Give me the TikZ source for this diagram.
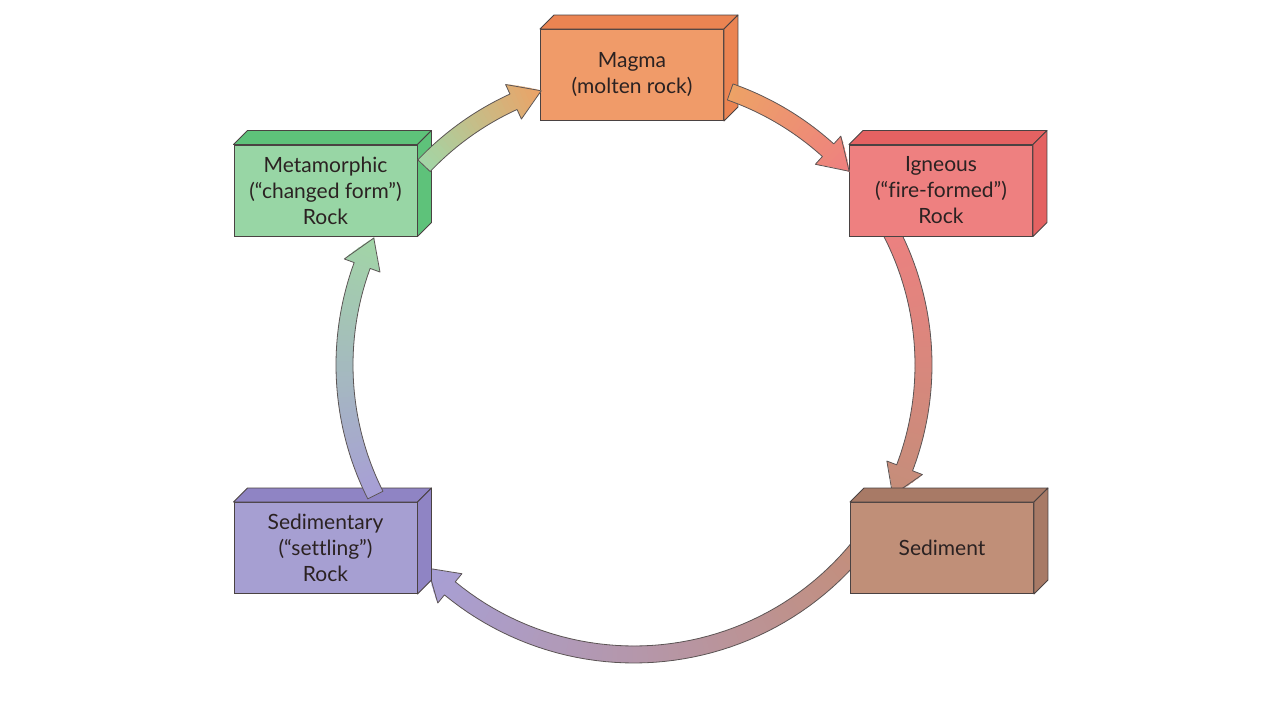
\documentclass[tikz,border=0pt]{standalone}
\usepackage{fontspec}
\setmainfont{Lato}[Ligatures=NoCommon]
\usetikzlibrary{calc}
\definecolor{boxline}{HTML}{4A4242}
\definecolor{txt}{HTML}{2B2222}
\definecolor{magF}{HTML}{F09B69}
\definecolor{magS}{HTML}{EB8452}
\definecolor{ignF}{HTML}{EE8080}
\definecolor{ignS}{HTML}{E46262}
\definecolor{metF}{HTML}{98D6A5}
\definecolor{metS}{HTML}{5EC27A}
\definecolor{sedrF}{HTML}{A69FD2}
\definecolor{sedrS}{HTML}{8F84C4}
\definecolor{sedF}{HTML}{C08F78}
\definecolor{sedS}{HTML}{A87A66}
\definecolor{arrMet}{HTML}{A2D6A6}
\definecolor{arrMag}{HTML}{EDA266}
\definecolor{arrIgn}{HTML}{EE8080}
\definecolor{arrSed}{HTML}{C48E7A}
\definecolor{arrSedr}{HTML}{A79FD6}
\tikzset{
  rockbox/.style={draw=boxline, line width=0.9pt, minimum width=183pt, minimum height=91pt,
    inner sep=0pt, align=center, font=\fontsize{21}{26}\selectfont, text=txt},
  arrline/.style={draw=boxline!90, line width=0.8pt, line join=round},
  faceline/.style={draw=boxline, line width=0.9pt, line join=round}
}
\newcommand{\boxfaces}[3]{%
  \path[fill=#2, faceline] (#1.north west) -- ++(14,14) -- ($(#1.north east)+(14,14)$) -- (#1.north east) -- cycle;
  \path[fill=#3, faceline] (#1.north east) -- ++(14,14) -- ($(#1.south east)+(14,14)$) -- (#1.south east) -- cycle;
}
% arrow along the cycle circle: start angle, end angle, start colour, end colour
\newcommand{\rockarrow}[4]{%
  \pgfmathsetmacro{\arrsgn}{(#2>#1)?1:-1}%
  \pgfmathsetmacro{\angH}{#2-\arrsgn*5.9}%
  \pgfmathtruncatemacro{\nsh}{abs(\angH-#1)}%
  \pgfmathsetmacro{\ntot}{\nsh+6}%
  \foreach \i in {1,...,\nsh}{%
    \pgfmathsetmacro{\angA}{#1+(\angH-#1)*(\i-1)/\nsh}%
    \pgfmathsetmacro{\angB}{#1+(\angH-#1)*\i/\nsh+\arrsgn*0.3}%
    \pgfmathtruncatemacro{\pc}{100*(\i-0.5)/\ntot}%
    \fill[#4!\pc!#3] (\angA:281) -- (\angA:298) -- (\angB:298) -- (\angB:281) -- cycle;
  }%
  \foreach \j in {1,...,6}{%
    \pgfmathsetmacro{\angA}{\angH+(#2-\angH)*(\j-1)/6}%
    \pgfmathsetmacro{\angB}{\angH+(#2-\angH)*(\j)/6+\arrsgn*0.2}%
    \pgfmathsetmacro{\rAi}{289.5-19*(1-(\j-1)/6)}%
    \pgfmathsetmacro{\rAo}{289.5+19*(1-(\j-1)/6)}%
    \pgfmathsetmacro{\rBi}{289.5-19*(1-\j/6)}%
    \pgfmathsetmacro{\rBo}{289.5+19*(1-\j/6)}%
    \pgfmathtruncatemacro{\pc}{100*(\nsh+\j-0.5)/\ntot}%
    \fill[#4!\pc!#3] (\angA:\rAi) -- (\angA:\rAo) -- (\angB:\rBo) -- (\angB:\rBi) -- cycle;
  }%
  \draw[arrline] (#1:281) -- plot[domain=#1:\angH, samples=50] (\x:281) -- (\angH:270.5)
     -- (#2:289.5) -- (\angH:308.5) -- plot[domain=\angH:#1, samples=50] (\x:298) -- cycle;
}
\begin{document}
\begin{tikzpicture}[x=1pt, y=1pt]
  \useasboundingbox (0,0) rectangle (1280,720);
  \fill[white] (0,0) rectangle (1280,720);
  \coordinate (C) at (634,355);

  % arrows that emerge from behind their source boxes
  \begin{scope}[shift={(C)}]
    \rockarrow{30}{-26.7}{arrIgn}{arrSed}
    \rockarrow{-37}{-135.4}{arrSed}{arrSedr}
  \end{scope}

  \node[rockbox, fill=magF] (magma) at (632,645) {Magma\\(molten rock)};
  \boxfaces{magma}{magS}{magS}
  \node[rockbox, fill=ignF] (igneous) at (941,529.5) {Igneous\\(“fire-formed”)\\Rock};
  \boxfaces{igneous}{ignS}{ignS}
  \node[rockbox, fill=metF] (meta) at (325.5,529.5) {Metamorphic\\(“changed form”)\\Rock};
  \boxfaces{meta}{metS}{metS}
  \node[rockbox, fill=sedrF] (sedrock) at (325.5,172) {Sedimentary\\(“settling”)\\Rock};
  \boxfaces{sedrock}{sedrS}{sedrS}
  \node[rockbox, fill=sedF] (sediment) at (942,172) {Sediment};
  \boxfaces{sediment}{sedS}{sedS}

  \begin{scope}[shift={(C)}]
    \rockarrow{136.5}{108.7}{arrMet}{arrMag}
    \rockarrow{70.6}{42.0}{arrMag}{arrIgn}
    \rockarrow{206.7}{154.0}{arrSedr}{arrMet}
  \end{scope}
\end{tikzpicture}
\end{document}
